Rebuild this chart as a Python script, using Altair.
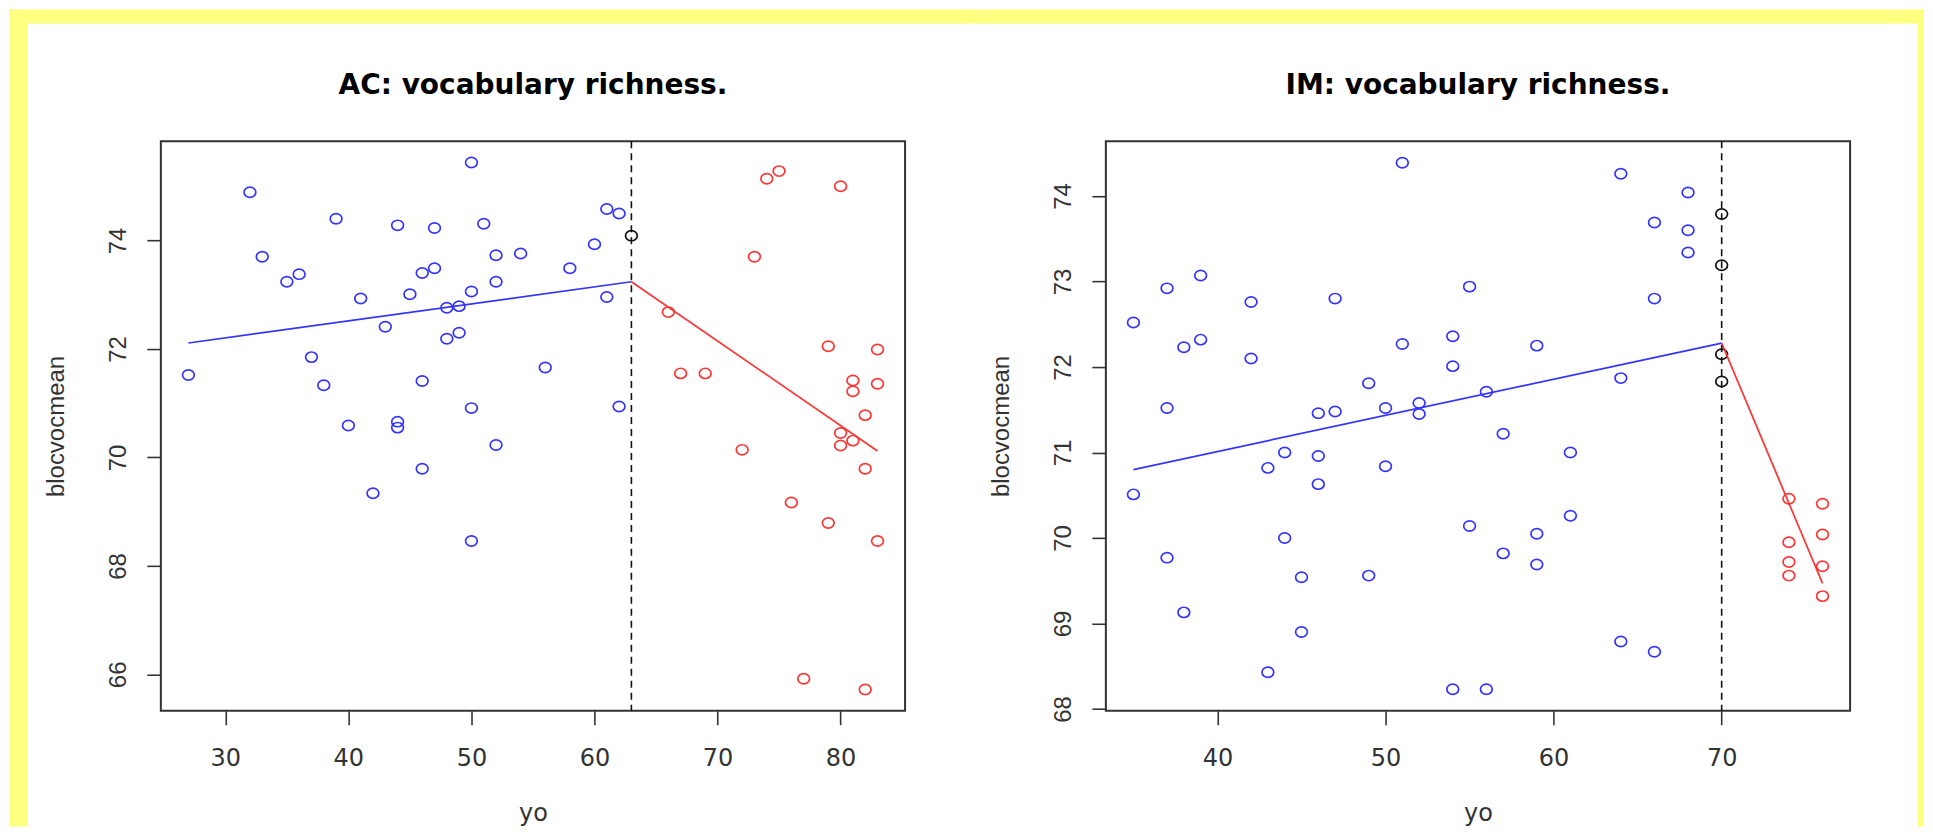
import altair as alt
import pandas as pd

# ---------------- data ----------------
ac_pre_x = [27, 32, 33, 35, 36, 37, 38, 39, 40, 41, 42, 43, 44, 44, 44, 45, 46, 46, 46, 47,
            47, 48, 48, 49, 49, 50, 50, 50, 50, 51, 52, 52, 52, 54, 56, 58, 60, 61, 61, 62, 62]
ac_pre_y = [71.52, 74.89, 73.70, 73.24, 73.38, 71.85, 71.33, 74.40, 70.59, 72.93,
            69.34, 72.41, 74.28, 70.66, 70.55, 73.01, 73.40, 71.41, 69.79, 74.23,
            73.49, 72.76, 72.19, 72.79, 72.30, 75.44, 73.06, 70.91, 68.46, 74.31,
            73.73, 73.24, 70.23, 73.76, 71.66, 73.49, 73.93, 74.58, 72.96, 74.50, 70.94]
ac_brk_x = [63]
ac_brk_y = [74.09]
ac_post_x = [66, 67, 69, 72, 73, 74, 75, 76, 77, 79, 79, 80, 80, 80, 81, 81, 81, 82, 82, 82, 83, 83, 83]
ac_post_y = [72.68, 71.55, 71.55, 70.14, 73.70, 75.14, 75.28, 69.17, 65.92, 72.05, 68.79, 75.00,
             70.45, 70.22, 71.42, 71.22, 70.31, 70.78, 69.79, 65.72, 71.99, 71.36, 68.46]
ac_fit_pre_x = [27, 63]
ac_fit_pre_y = [72.11, 73.24]
ac_fit_post_x = [63, 83]
ac_fit_post_y = [73.24, 70.12]
ac_break = 63

im_pre_x = [35, 35, 37, 37, 37, 38, 38, 39, 39, 42, 42, 43, 43, 44, 44, 45, 45, 46, 46, 46,
            47, 47, 49, 49, 50, 50, 51, 51, 52, 52, 54, 54, 54, 55, 55, 56, 56, 57, 57, 59,
            59, 59, 61, 61, 64, 64, 64, 66, 66, 66, 68, 68, 68]
im_pre_y = [72.52, 70.51, 72.92, 71.52, 69.77, 72.23, 69.13, 73.07, 72.32, 72.76,
            72.10, 70.82, 68.43, 71.00, 70.00, 69.54, 68.90, 71.46, 70.96, 70.63,
            72.80, 71.48, 71.81, 69.56, 71.52, 70.84, 74.39, 72.27, 71.58, 71.45,
            72.36, 72.01, 68.23, 72.94, 70.14, 71.71, 68.23, 71.22, 69.82, 72.25,
            70.05, 69.69, 71.00, 70.26, 74.26, 71.87, 68.79, 73.69, 72.80, 68.67,
            74.04, 73.60, 73.34]
im_brk_x = [70, 70, 70, 70]
im_brk_y = [73.79, 73.19, 72.15, 71.83]
im_post_x = [74, 74, 74, 74, 76, 76, 76, 76]
im_post_y = [70.46, 69.95, 69.72, 69.56, 70.40, 70.04, 69.67, 69.32]
im_fit_pre_x = [35, 70]
im_fit_pre_y = [70.80, 72.28]
im_fit_post_x = [70, 76]
im_fit_post_y = [72.28, 69.47]
im_break = 70

ac_xdom = [24.76, 85.24]
ac_ydom = [65.33, 75.83]
im_xdom = [33.36, 77.64]
im_ydom = [67.98, 74.64]
ac_xticks = [30, 40, 50, 60, 70, 80]
ac_yticks = [66, 68, 70, 72, 74]
im_xticks = [40, 50, 60, 70]
im_yticks = [68, 69, 70, 71, 72, 73, 74]

# ---------------- style ----------------
YELLOW = "#FFFF80"
BLUE = "#3434ff"
RED = "#ff3434"
W, H = 745, 570
ELLIPSE = "M -1.15 0 A 1.15 1 0 1 0 1.15 0 A 1.15 1 0 1 0 -1.15 0 Z"
GRP_DOMAIN = ["pre", "break", "post"]
GRP_RANGE = [BLUE, "#111111", RED]


def points_df(px, py, bx, by, qx, qy):
    return pd.DataFrame({
        "x": list(px) + list(bx) + list(qx),
        "y": list(py) + list(by) + list(qy),
        "grp": ["pre"] * len(px) + ["break"] * len(bx) + ["post"] * len(qx),
    })


def fit_df(ax, ay, bx, by):
    return pd.DataFrame({
        "x": list(ax) + list(bx),
        "y": list(ay) + list(by),
        "grp": ["pre"] * len(ax) + ["post"] * len(bx),
    })


def strip(x1, x2, y1, y2):
    return alt.Chart(pd.DataFrame({"k": [0]})).mark_rect(color=YELLOW, strokeWidth=0).encode(
        x=alt.value(x1), x2=alt.value(x2), y=alt.value(y1), y2=alt.value(y2))


def panel(title, pts, fit, brk, xdom, ydom, xticks, yticks, strips):
    xs = alt.Scale(domain=xdom, nice=False, zero=False)
    ys = alt.Scale(domain=ydom, nice=False, zero=False)
    xax = alt.Axis(values=xticks, title="yo", grid=False, domain=False,
                   tickSize=14, tickWidth=1.6, tickColor="#333333",
                   labelFont="DejaVu Sans", labelFontSize=24, labelColor="#333333",
                   labelBaseline="alphabetic", labelPadding=41, labelFlush=False,
                   labelOverlap=False, labelBound=False,
                   titleFont="DejaVu Sans", titleFontSize=24, titleFontWeight="normal",
                   titleColor="#333333", titleBaseline="alphabetic", titleAlign="center",
                   titleX=W / 2, titleY=110, zindex=1)
    yax = alt.Axis(values=yticks, title="blocvocmean", grid=False, domain=False,
                   tickSize=14, tickWidth=1.6, tickColor="#333333",
                   labelFont="Liberation Sans", labelFontSize=24, labelColor="#333333",
                   labelAngle=270, labelAlign="center", labelBaseline="alphabetic",
                   labelPadding=21, labelOverlap=False, labelBound=False, labelFlush=False,
                   titleFont="Liberation Sans", titleFontSize=24, titleFontWeight="normal",
                   titleColor="#333333", titleAngle=270, titleAlign="center",
                   titleBaseline="alphabetic", titleX=-97, titleY=H / 2, zindex=1)
    cscale = alt.Scale(domain=GRP_DOMAIN, range=GRP_RANGE)

    pts_layer = alt.Chart(pts).mark_point(shape=ELLIPSE, size=105, strokeWidth=1.7,
                                          filled=False, opacity=1).encode(
        x=alt.X("x:Q", scale=xs, axis=xax),
        y=alt.Y("y:Q", scale=ys, axis=yax),
        color=alt.Color("grp:N", scale=cscale, legend=None),
    )
    fit_layer = alt.Chart(fit).mark_line(strokeWidth=1.7).encode(
        x=alt.X("x:Q", scale=xs, axis=xax),
        y=alt.Y("y:Q", scale=ys, axis=yax),
        color=alt.Color("grp:N", scale=cscale, legend=None),
        detail="grp:N",
    )
    rule_layer = alt.Chart(pd.DataFrame({"x": [brk]})).mark_rule(
        color="#111111", strokeWidth=1.6, strokeDash=[7, 5]).encode(
        x=alt.X("x:Q", scale=xs, axis=xax))
    title_layer = alt.Chart(pd.DataFrame({"t": [title]})).mark_text(
        font="DejaVu Sans", fontSize=28, fontWeight="bold", color="black",
        align="center", baseline="alphabetic").encode(
        text="t:N", x=alt.value(W / 2), y=alt.value(-47.5))

    layers = [strip(*s) for s in strips] + [pts_layer, fit_layer, rule_layer, title_layer]
    return alt.layer(*layers).properties(width=W, height=H)


# plot origin of left panel at page (160,140), right panel at (1106,140)
left_strips = [(-152, 804, -132, -118), (-152, -133, -132, 686)]
right_strips = [(-146, 819, -132, -118), (813, 819, -132, 686)]

left = panel("AC: vocabulary richness.",
             points_df(ac_pre_x, ac_pre_y, ac_brk_x, ac_brk_y, ac_post_x, ac_post_y),
             fit_df(ac_fit_pre_x, ac_fit_pre_y, ac_fit_post_x, ac_fit_post_y),
             ac_break, ac_xdom, ac_ydom, ac_xticks, ac_yticks, left_strips)
right = panel("IM: vocabulary richness.",
              points_df(im_pre_x, im_pre_y, im_brk_x, im_brk_y, im_post_x, im_post_y),
              fit_df(im_fit_pre_x, im_fit_pre_y, im_fit_post_x, im_fit_post_y),
              im_break, im_xdom, im_ydom, im_xticks, im_yticks, right_strips)

chart = alt.hconcat(left, right, spacing=-6).properties(
    padding=0, background="white"
).configure_view(
    stroke="#333333", strokeWidth=2, fill=None
)

chart.save("out.html", embed_options={"renderer": "svg", "actions": False})
